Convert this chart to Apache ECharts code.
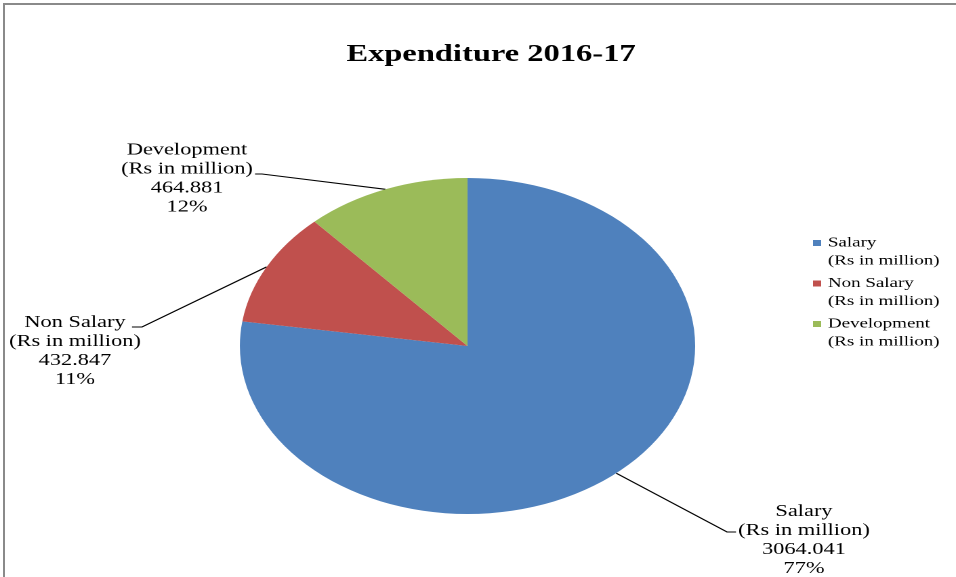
<!DOCTYPE html>
<html>
<head>
<meta charset="utf-8">
<script src="https://cdn.jsdelivr.net/npm/echarts@6/dist/echarts.min.js"></script>
<style>
  html, body { margin: 0; padding: 0; background: #fff; }
  #wrap { position: absolute; left: 0; top: 0; width: 956px; height: 577px; overflow: hidden; background: #fff; }
  #chart { position: absolute; left: 0; top: 0; height: 577px; transform-origin: 0 0; }
  #frame { position: absolute; left: 3px; top: 3px; width: 1000px; height: 640px; border: 2px solid #8a8a8a; pointer-events: none; }
</style>
</head>
<body>
<div id="wrap">
  <div id="chart"></div>
  <div id="frame"></div>
</div>
<script>
// ---- data ----
const categories = ['Salary', 'Non Salary', 'Development'];
const values = [3064.041, 432.847, 464.881];
const unitText = '(Rs in million)';
const titleText = 'Expenditure 2016-17';
const colors = ['#4F81BD', '#C0504D', '#9BBB59'];

// ---- layout (the original picture is stretched horizontally) ----
const K = 1.355;
const W = 956 / K;
const el = document.getElementById('chart');
el.style.width = W + 'px';
el.style.transform = 'scaleX(' + K + ')';

const u = x => x / K; // stretched px -> unstretched px
const labelCfg = [
  { x: u(804), y: 540, elbow: [u(727), 532], end: [u(736), 532] },
  { x: u(75),  y: 351, elbow: [u(142), 327], end: [u(132), 327] },
  { x: u(187), y: 178.5, elbow: [u(262), 174], end: [u(255), 174] }
];

const chart = echarts.init(el, null, { renderer: 'canvas', devicePixelRatio: 2 });
const serif = "'Liberation Serif', 'DejaVu Serif', serif";

chart.setOption({
  animation: false,
  title: {
    text: titleText,
    left: u(491) - 5,
    textAlign: 'center',
    top: 38,
    textStyle: { fontFamily: serif, fontSize: 24, fontWeight: 'bold', color: '#000' }
  },
  legend: {
    orient: 'vertical',
    left: u(813) - 5,
    top: 229,
    itemWidth: 6,
    itemHeight: 36,
    itemGap: 4.5,
    icon: 'path://M0,0M0,6h6v6h-6zM6,36',
    selectedMode: false,
    data: categories.map((c, i) => ({ name: c, itemStyle: { color: colors[i] } })),
    formatter: name => name + '\n' + unitText,
    textStyle: { fontFamily: serif, fontSize: 14, lineHeight: 18, color: '#000' }
  },
  series: [{
    type: 'pie',
    center: [u(467.5), 346],
    radius: 168,
    startAngle: 90,
    clockwise: true,
    percentPrecision: 0,
    avoidLabelOverlap: false,
    emphasis: { disabled: true },
    itemStyle: { borderWidth: 0 },
    color: colors,
    data: categories.map((c, i) => ({ name: c, value: values[i] })),
    label: {
      show: true,
      position: 'outside',
      formatter: p => p.name + '\n' + unitText + '\n' + p.value + '\n' + p.percent + '%',
      fontFamily: serif,
      fontSize: 16.5,
      lineHeight: 19,
      color: '#000'
    },
    labelLine: { show: true, length: 20, length2: 10, lineStyle: { color: '#000', width: 1.1 } },
    labelLayout: function (p) {
      const L = labelCfg[p.dataIndex];
      const out = { x: L.x, y: L.y, align: 'center', verticalAlign: 'middle' };
      if (p.labelLinePoints && p.labelLinePoints[0]) {
        const s = p.labelLinePoints[0];
        out.labelLinePoints = [[s[0], s[1]], L.elbow, L.end];
      }
      return out;
    }
  }]
});
</script>
</body>
</html>
